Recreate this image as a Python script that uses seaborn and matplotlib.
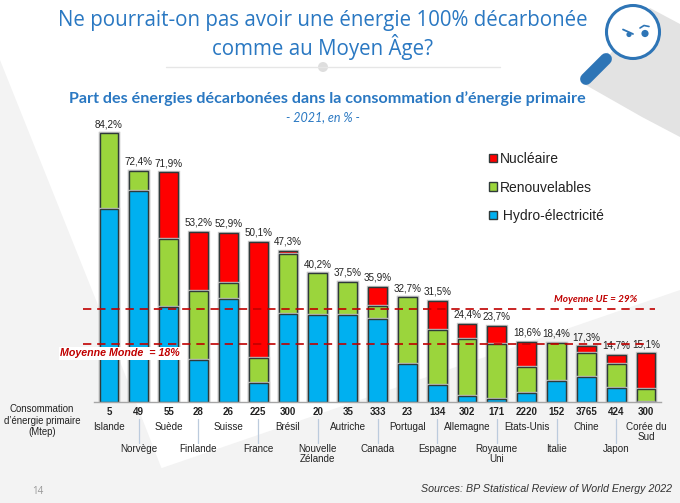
# -*- coding: utf-8 -*-
"""Part des energies decarbonees dans la consommation d'energie primaire."""

import matplotlib
matplotlib.use("Agg")
import matplotlib.pyplot as plt
import matplotlib.patheffects as pe
from matplotlib.patches import Circle, Patch, Polygon
import numpy as np
import seaborn as sns

pays = ["Islande", "Norvège", "Suède", "Finlande", "Suisse", "France", "Brésil",
        "Nouvelle\nZélande", "Autriche", "Canada", "Portugal", "Espagne",
        "Allemagne", "Royaume\nUni", "Etats-Unis", "Italie", "Chine", "Japon",
        "Corée du\nSud"]
consommation = ["5", "49", "55", "28", "26", "225", "300", "20", "35", "333",
                "23", "134", "302", "171", "2220", "152", "3765", "424", "300"]
hydro = [60.3, 66.1, 29.8, 12.9, 32.1, 5.9, 27.4, 27.2, 27.2, 25.8,
         11.7, 5.2, 1.6, 0.9, 2.8, 6.4, 7.8, 4.1, 0.0]
renouvelables = [23.9, 6.3, 21.2, 21.8, 5.2, 7.8, 18.9, 13.0, 10.3, 4.1,
                 21.0, 17.1, 17.9, 17.1, 7.9, 12.0, 7.3, 7.6, 3.8]
nucleaire = [0.0, 0.0, 20.9, 18.5, 15.6, 36.4, 1.0, 0.0, 0.0, 6.0,
             0.0, 9.2, 4.9, 5.7, 7.9, 0.0, 2.2, 3.0, 11.3]
totaux = ["84,2%", "72,4%", "71,9%", "53,2%", "52,9%", "50,1%", "47,3%", "40,2%",
          "37,5%", "35,9%", "32,7%", "31,5%", "24,4%", "23,7%", "18,6%", "18,4%",
          "17,3%", "14,7%", "15,1%"]
moyenne_ue = 29
moyenne_monde = 18

BLEU_TITRE = "#2a78c2"
BLEU_LOUPE = "#2e75b6"
ROUGE_MOY = "#c00000"

sns.set_theme(style="white")
plt.rcParams["font.family"] = ["Liberation Sans", "DejaVu Sans"]

fig = plt.figure(figsize=(6.8, 5.03), dpi=100, facecolor="white")

# fond de la diapositive, en coordonnees pixel
fond = fig.add_axes([0, 0, 1, 1], zorder=0)
fond.set_xlim(0, 680)
fond.set_ylim(503, 0)
fond.axis("off")
gris = "#f3f3f3"
fond.add_patch(Polygon([(0, 60), (100, 310), (175, 503), (0, 503)], color=gris, lw=0))
fond.add_patch(Polygon([(60, 503), (680, 290), (680, 503)], color=gris, lw=0))

# loupe et son ombre
fond.add_patch(Polygon([(650, 8), (680, 24), (680, 137), (642, 117), (584, 84)],
                       color="#e3e3e3", lw=0))
fond.plot([610, 607], [55, 58], color="#bcd3ea", lw=5, solid_capstyle="butt")
fond.plot([606, 586], [59, 79], color=BLEU_LOUPE, lw=8.5, solid_capstyle="round")
fond.add_patch(Circle((633, 32), 26.5, fc="white", ec=BLEU_LOUPE, lw=2.2))
fond.add_patch(Circle((629, 34.5), 2.6, color=BLEU_LOUPE, lw=0))
fond.add_patch(Circle((645, 33.5), 3.6, color=BLEU_LOUPE, lw=0))
fond.plot([623, 633], [29.5, 34], color=BLEU_LOUPE, lw=1.3)
fond.plot([640, 644, 649], [28, 25.5, 26.5], color=BLEU_LOUPE, lw=1.2)

# titres
fond.text(323, 20, "Ne pourrait-on pas avoir une énergie 100% décarbonée",
          family="Open Sans", fontsize=14.8, color=BLEU_TITRE, ha="center", va="center")
fond.text(323, 47, "comme au Moyen Âge?", family="Open Sans", fontsize=14.8,
          color=BLEU_TITRE, ha="center", va="center")
fond.plot([166, 500], [67, 67], color="#e6e6e6", lw=1)
fond.add_patch(Circle((323, 67), 5, color="#dedede", lw=0))
fond.text(327.5, 99, "Part des énergies décarbonées dans la consommation d’énergie primaire",
          family="Lato", fontweight="bold", fontsize=11.6, color=BLEU_TITRE,
          ha="center", va="center")
fond.text(323, 117, "- 2021, en % -", family="Lato", style="italic", fontsize=9,
          color=BLEU_TITRE, ha="center", va="center")
fond.text(672, 489, "Sources: BP Statistical Review of World Energy 2022", style="italic",
          fontsize=7.7, color="#333333", ha="right", va="center")
fond.text(38, 491, "14", family="Open Sans", fontsize=7, color="#999999",
          ha="center", va="center")
fond.text(42, 420.5, "Consommation\nd’énergie primaire\n(Mtep)", fontsize=6.9,
          color="#222222", ha="center", va="center", linespacing=1.2)

# graphique : 3,185 px par point de %, base a y=401.5 px
ax = fig.add_axes([94 / 680, (503 - 401.5) / 503, 567 / 680, 286.65 / 503], zorder=1)
ax.patch.set_alpha(0)

cumul_hydro = np.array(hydro)
cumul_renouv = cumul_hydro + np.array(renouvelables)
cumul_total = cumul_renouv + np.array(nucleaire)

for valeurs, couleur in [(cumul_total, "#ff0000"), (cumul_renouv, "#9bd53c"),
                         (cumul_hydro, "#00b0f0")]:
    sns.barplot(x=pays, y=valeurs, color=couleur, saturation=1, width=0.63,
                edgecolor="#2f3a3a", linewidth=1, ax=ax, zorder=2)

# leger halo gris autour des barres
for barre in ax.patches:
    barre.set_path_effects([pe.Stroke(linewidth=2.4, foreground="#c4c4c4"), pe.Normal()])

ax.set_xlim(-0.5, 18.5)
ax.set_ylim(0, 90)
ax.set_xticks([])
ax.set_yticks([])
ax.set_ylabel("")
sns.despine(ax=ax, left=True)
ax.spines["bottom"].set_color("#a6a6a6")
ax.spines["bottom"].set_linewidth(1)

for i, texte in enumerate(totaux):
    ax.annotate(texte, (i, cumul_total[i]), xytext=(0, 6.7), textcoords="offset points",
                ha="center", va="center", fontsize=7.1, color="#222222", zorder=3)

# moyennes
ax.plot([-0.87, 18.3], [moyenne_ue, moyenne_ue], color=ROUGE_MOY, lw=1.2,
        dashes=(5, 3.5), clip_on=False, zorder=4)
ax.plot([-0.87, 18.07], [moyenne_monde, moyenne_monde], color=ROUGE_MOY, lw=1.2,
        dashes=(5, 3.5), clip_on=False, zorder=4)
ax.text(16.3, 32.1, "Moyenne UE = 29%", family="Lato", style="italic", fontweight="bold",
        fontsize=7.2, color=ROUGE_MOY, ha="center", va="center", zorder=5)
ax.text(0.37, 15.1, "Moyenne Monde  = 18%", style="italic", fontweight="bold", fontsize=7.7,
        color=ROUGE_MOY, ha="center", va="center", zorder=5,
        bbox=dict(fc="white", ec="none", pad=1))

# axe des categories : conso en gras puis pays sur deux rangs
for i, (nom, conso) in enumerate(zip(pays, consommation)):
    ax.text(i, -3.3, conso, fontweight="bold", fontsize=7, color="#222222",
            ha="center", va="center")
    if i % 2 == 0:
        ax.text(i, -6.5, nom, fontsize=7.1, color="#222222", ha="center", va="top",
                linespacing=0.95)
    else:
        ax.plot([i, i], [-5.5, -13.1], color="#bccbdd", lw=0.9, clip_on=False)
        ax.text(i, -13.5, nom, fontsize=7.1, color="#222222", ha="center", va="top",
                linespacing=0.95)

poignees = [Patch(fc="#ff0000", ec="#2f3a3a"), Patch(fc="#9bd53c", ec="#2f3a3a"),
            Patch(fc="#00b0f0", ec="#2f3a3a")]
leg = ax.legend(poignees, ["Nucléaire", "Renouvelables", " Hydro-électricité"],
                loc="upper left", bbox_to_anchor=(489 / 680, 1 - 152 / 503),
                bbox_transform=fig.transFigure, frameon=False, fontsize=10,
                handlelength=0.55, handleheight=0.55, handletextpad=0.2,
                labelspacing=1.05, borderaxespad=0, borderpad=0)
for t in leg.get_texts():
    t.set_color("#222222")

fig.savefig("out.png", dpi=100)
